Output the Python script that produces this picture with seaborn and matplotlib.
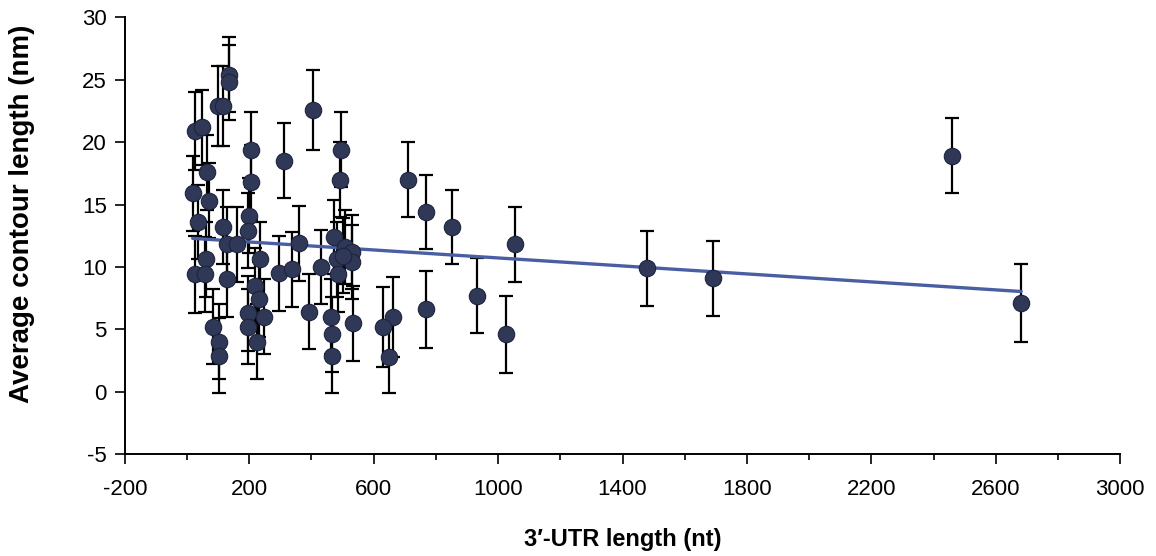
import numpy as np
import pandas as pd
import matplotlib
matplotlib.use("Agg")
import matplotlib.pyplot as plt
import matplotlib.ticker as mticker
import seaborn as sns

# 3'-UTR length (nt)
utr_length = [25, 47, 100, 116, 135, 136, 65, 18, 71, 36,
              114, 206, 206, 200, 197, 127, 159, 60, 25, 57,
              127, 236, 218, 232, 247, 195, 195, 225, 84, 103,
              103, 296, 336, 311, 404, 495, 492, 361, 473, 508,
              529, 430, 481, 529, 486, 392, 462, 466, 466, 532,
              711, 767, 852, 767, 661, 631, 650, 1054, 931, 1024,
              1479, 1691, 2460, 2682, 500]
# average contour length (nm)
contour = [20.9, 21.2, 22.9, 22.9, 25.4, 24.8, 17.6, 15.9, 15.3, 13.6,
           13.2, 19.4, 16.8, 14.1, 12.9, 11.8, 11.8, 10.6, 9.4, 9.4,
           9.0, 10.6, 8.5, 7.4, 6.0, 6.3, 5.2, 4.0, 5.2, 4.0,
           2.9, 9.5, 9.8, 18.5, 22.6, 19.4, 17.0, 11.9, 12.4, 11.6,
           11.2, 10.0, 10.6, 10.4, 9.4, 6.4, 6.0, 4.6, 2.9, 5.5,
           17.0, 14.4, 13.2, 6.6, 6.0, 5.2, 2.8, 11.8, 7.7, 4.6,
           9.9, 9.1, 18.9, 7.1, 10.9]
# error (nm)
err = [3.1, 3.0, 3.2, 3.2, 3.0, 3.0, 3.0, 3.0, 3.0, 3.0,
       3.0, 3.0, 3.0, 3.0, 3.0, 3.0, 3.0, 3.0, 3.1, 3.0,
       3.0, 3.0, 3.0, 3.0, 3.0, 3.0, 3.0, 3.0, 3.0, 3.0,
       3.0, 3.0, 3.0, 3.0, 3.2, 3.0, 3.0, 3.0, 3.0, 3.0,
       3.0, 3.0, 3.0, 3.0, 3.0, 3.0, 3.0, 3.0, 3.0, 3.0,
       3.0, 3.0, 3.0, 3.1, 3.2, 3.2, 2.9, 3.0, 3.0, 3.1,
       3.0, 3.0, 3.0, 3.1, 3.0]

x_major = [-200, 200, 600, 1000, 1400, 1800, 2200, 2600, 3000]
x_minor = [0, 400, 800, 1200, 1600, 2000, 2400, 2800]
y_ticks = [-5, 0, 5, 10, 15, 20, 25, 30]


def main():
    df = pd.DataFrame({"utr": utr_length, "contour": contour, "err": err})

    sns.set_theme(style="white")
    plt.rcParams["font.family"] = ["Liberation Sans", "DejaVu Sans"]
    plt.rcParams["axes.unicode_minus"] = False
    plt.rcParams["axes.labelcolor"] = "black"
    plt.rcParams["text.color"] = "black"

    fig = plt.figure(figsize=(11.56, 5.56), dpi=100)
    ax = fig.add_axes([0.108, 0.183, 0.861, 0.786])

    ax.errorbar(df["utr"], df["contour"], yerr=df["err"], fmt="none",
                ecolor="black", elinewidth=1.6, capsize=5, capthick=1.6,
                zorder=1)
    sns.regplot(data=df, x="utr", y="contour", scatter=False, ci=None,
                ax=ax, line_kws={"color": "#4a5fa3", "lw": 2.4, "zorder": 2})
    sns.scatterplot(data=df, x="utr", y="contour", ax=ax, s=140,
                    color="#2f3857", edgecolor="#1e243d", linewidth=0.8,
                    zorder=3)

    ax.set_xlim(-200, 3000)
    ax.set_ylim(-5, 30)
    ax.xaxis.set_major_locator(mticker.FixedLocator(x_major))
    ax.xaxis.set_minor_locator(mticker.FixedLocator(x_minor))
    ax.yaxis.set_major_locator(mticker.FixedLocator(y_ticks))
    ax.tick_params(axis="both", which="major", direction="out", length=7,
                   width=1.2, color="black", labelsize=16, labelcolor="black")
    ax.tick_params(axis="x", which="minor", direction="out", length=4,
                   width=1.2, color="black", bottom=True)
    ax.tick_params(axis="x", which="major", pad=11, bottom=True)
    ax.tick_params(axis="y", which="major", pad=6, left=True)

    for side in ["top", "right"]:
        ax.spines[side].set_visible(False)
    for side in ["left", "bottom"]:
        ax.spines[side].set_color("black")
        ax.spines[side].set_linewidth(1.4)

    ax.set_xlabel("3\u2032-UTR length (nt)", fontsize=17, fontweight="bold",
                  color="black")
    ax.set_ylabel("Average contour length (nm)", fontsize=20,
                  fontweight="bold", color="black")
    ax.xaxis.set_label_coords(0.5, -0.168)
    ax.yaxis.set_label_coords(-0.09, 0.55)

    fig.savefig("out.png", dpi=100, facecolor="white")


if __name__ == "__main__":
    main()
